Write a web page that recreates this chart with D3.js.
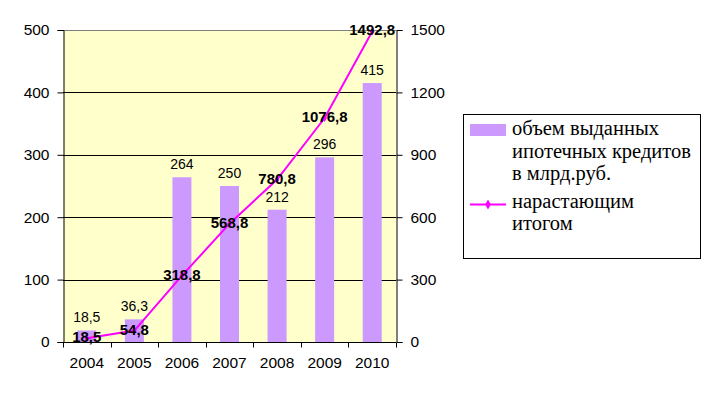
<!DOCTYPE html>
<html>
<head>
<meta charset="utf-8">
<script src="https://cdn.jsdelivr.net/npm/d3@7"></script>
<style>
  body { margin: 0; background: #fff; }
  svg { display: block; }
</style>
</head>
<body>
<div id="chart"></div>
<script>
// DATA ////////////////////////////////////////////////////////////////////////
const years = ["2004", "2005", "2006", "2007", "2008", "2009", "2010"];
const issued = [18.5, 36.3, 264, 250, 212, 296, 415];          // bars, left axis
const cumulative = [18.5, 54.8, 318.8, 568.8, 780.8, 1076.8, 1492.8]; // line, right axis
const leftTicks = [0, 100, 200, 300, 400, 500];
const rightTicks = [0, 300, 600, 900, 1200, 1500];
const barName = ["объем выданных", "ипотечных кредитов", "в млрд.руб."];
const lineName = ["нарастающим", "итогом"];

const fmt = d => String(d).replace(".", ",");

// LAYOUT ////////////////////////////////////////////////////////////////////////
const W = 714, H = 397;
const m = { left: 63, right: 396, top: 30, bottom: 342 };
const sans = "Liberation Sans, Arial, sans-serif";

const svg = d3.select("#chart").append("svg")
  .attr("width", W).attr("height", H);

const x = d3.scaleBand().domain(years).range([m.left, m.right]);
const yL = d3.scaleLinear().domain([0, 500]).range([m.bottom, m.top]);
const yR = d3.scaleLinear().domain([0, 1500]).range([m.bottom, m.top]);

// plot background
svg.append("rect")
  .attr("x", m.left).attr("y", m.top)
  .attr("width", m.right - m.left).attr("height", m.bottom - m.top)
  .attr("fill", "#FFFFCC");

// gridlines
svg.append("g").selectAll("line")
  .data(leftTicks.filter(d => d > 0))
  .join("line")
  .attr("x1", m.left).attr("x2", m.right)
  .attr("y1", d => Math.round(yL(d)) + 0.5).attr("y2", d => Math.round(yL(d)) + 0.5)
  .attr("stroke", d => d === 500 ? "#808080" : "#000")
  .attr("stroke-width", 1);

// bars
const barW = 19;
svg.append("g").selectAll("rect")
  .data(issued)
  .join("rect")
  .attr("x", (d, i) => x(years[i]) + x.bandwidth() / 2 - barW / 2)
  .attr("y", d => yL(d))
  .attr("width", barW)
  .attr("height", d => m.bottom - yL(d))
  .attr("fill", "#CC99FF");

// bar labels
svg.append("g").selectAll("text")
  .data(issued)
  .join("text")
  .attr("x", (d, i) => x(years[i]) + x.bandwidth() / 2)
  .attr("y", d => yL(d) - 8)
  .attr("text-anchor", "middle")
  .attr("font-family", sans)
  .attr("font-size", "14px")
  .attr("fill", "#000")
  .text(d => fmt(d));

// axes
const axL = d3.axisLeft(yL).tickValues(leftTicks).tickFormat(d3.format("d")).tickSize(6).tickPadding(8);
const axR = d3.axisRight(yR).tickValues(rightTicks).tickFormat(d3.format("d")).tickSize(6).tickPadding(8);

const gL = svg.append("g").attr("transform", `translate(${m.left + 0.5},0)`).call(axL);
const gR = svg.append("g").attr("transform", `translate(${m.right + 0.5},0)`).call(axR);
[gL, gR].forEach(g => {
  g.select(".domain").attr("stroke", "#000");
  g.selectAll(".tick line").attr("stroke", "#000");
  g.selectAll(".tick text")
    .attr("font-family", sans)
    .attr("font-size", "15.5px")
    .attr("fill", "#000");
});

// x axis with ticks between categories
const gX = svg.append("g").attr("transform", `translate(0,${m.bottom + 0.5})`);
gX.append("line")
  .attr("x1", m.left).attr("x2", m.right)
  .attr("stroke", "#000");
gX.selectAll(".xt")
  .data(years.concat(["end"]))
  .join("line")
  .attr("class", "xt")
  .attr("x1", (d, i) => Math.round(m.left + i * x.step()) + 0.5)
  .attr("x2", (d, i) => Math.round(m.left + i * x.step()) + 0.5)
  .attr("y1", 0).attr("y2", 5)
  .attr("stroke", "#000");
gX.selectAll("text")
  .data(years)
  .join("text")
  .attr("x", d => x(d) + x.bandwidth() / 2)
  .attr("y", 25)
  .attr("text-anchor", "middle")
  .attr("font-family", sans)
  .attr("font-size", "15.5px")
  .text(d => d);

// line (right axis)
const line = d3.line()
  .x((d, i) => x(years[i]) + x.bandwidth() / 2)
  .y(d => yR(d));

svg.append("path")
  .datum(cumulative)
  .attr("d", line)
  .attr("fill", "none")
  .attr("stroke", "#FF00FF")
  .attr("stroke-width", 2);

svg.append("g").selectAll("path")
  .data(cumulative)
  .join("path")
  .attr("d", d3.symbol(d3.symbolDiamond, 18))
  .attr("transform", (d, i) => `translate(${x(years[i]) + x.bandwidth() / 2},${yR(d)})`)
  .attr("fill", "#FF00FF");

// line labels (bold, centred on points)
svg.append("g").selectAll("text")
  .data(cumulative)
  .join("text")
  .attr("x", (d, i) => x(years[i]) + x.bandwidth() / 2)
  .attr("y", d => yR(d) + 4)
  .attr("text-anchor", "middle")
  .attr("font-family", sans)
  .attr("font-size", "15px")
  .attr("font-weight", "bold")
  .attr("fill", "#000")
  .text(d => fmt(d));

// legend
const lg = svg.append("g");
lg.append("rect")
  .attr("x", 463.5).attr("y", 114.5)
  .attr("width", 237).attr("height", 144)
  .attr("fill", "#fff")
  .attr("stroke", "#000");

lg.append("rect")
  .attr("x", 470).attr("y", 124)
  .attr("width", 36).attr("height", 12)
  .attr("fill", "#CC99FF");

const legendFont = "Liberation Serif, Times New Roman, serif";
lg.selectAll(".bt")
  .data(barName)
  .join("text")
  .attr("class", "bt")
  .attr("x", 512)
  .attr("y", (d, i) => 135 + i * 22.7)
  .attr("font-family", legendFont)
  .attr("font-size", "20.5px")
  .text(d => d);

lg.append("line")
  .attr("x1", 470).attr("x2", 506)
  .attr("y1", 204.5).attr("y2", 204.5)
  .attr("stroke", "#FF00FF").attr("stroke-width", 2);
lg.append("path")
  .attr("d", d3.symbol(d3.symbolDiamond, 28))
  .attr("transform", "translate(488,204.5)")
  .attr("fill", "#FF00FF");

lg.selectAll(".lt")
  .data(lineName)
  .join("text")
  .attr("class", "lt")
  .attr("x", 512)
  .attr("y", (d, i) => 207.5 + i * 22)
  .attr("font-family", legendFont)
  .attr("font-size", "20.5px")
  .text(d => d);
</script>
</body>
</html>
